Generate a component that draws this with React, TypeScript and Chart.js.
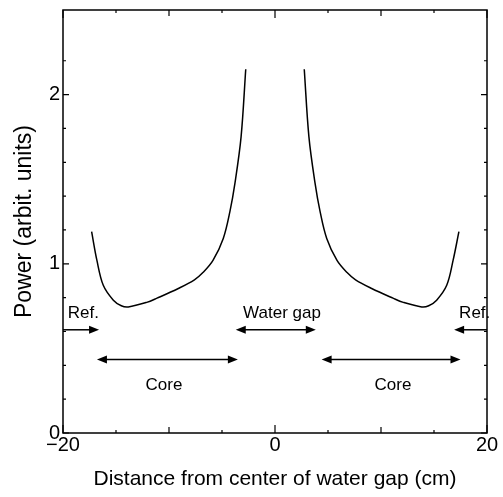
import React, { useEffect, useRef } from "react";
import { Chart, registerables } from "chart.js";

Chart.register(...registerables);

// ---- data ----
const leftX = [-17.3, -16.8, -16.2, -15.25, -14.5, -13.84, -12.1, -11.13, -9.12, -7.6, -6.8, -5.85, -4.88, -4.25, -3.77, -3.2, -2.76];
const leftY = [1.19, 1.02, 0.873, 0.785, 0.752, 0.745, 0.772, 0.797, 0.854, 0.905, 0.948, 1.02, 1.15, 1.31, 1.48, 1.75, 2.15];
const rightX = [2.76, 3.2, 3.77, 4.25, 4.88, 5.85, 6.8, 7.6, 9.12, 11.13, 12.1, 13.84, 14.5, 15.25, 16.2, 16.8, 17.35];
const rightY = [2.15, 1.75, 1.48, 1.31, 1.15, 1.02, 0.948, 0.905, 0.854, 0.797, 0.772, 0.745, 0.752, 0.785, 0.873, 1.02, 1.19];

const xLabeledTicks = [-20, 0, 20];
const yLabeledTicks = [0, 1, 2];

// annotation arrows: [from, to], height, heads
const arrowFrom = [-20, -3.7, 16.9, -16.8, 4.4];
const arrowTo = [-16.6, 3.85, 20, -3.5, 17.5];
const arrowY = [0.61, 0.61, 0.61, 0.435, 0.435];
const arrowHeads = ["end", "both", "start", "both", "both"];

const labelTexts = ["Ref.", "Water gap", "Ref.", "Core", "Core"];
const labelX = [-18.08, 0.66, 18.84, -10.47, 11.13];
const labelY = [0.678, 0.678, 0.678, 0.254, 0.254];

const FONT = "'Liberation Sans', Arial, Helvetica, sans-serif";

function drawHead(ctx: CanvasRenderingContext2D, x: number, y: number, dir: number) {
  const len = 10;
  const half = 4;
  ctx.beginPath();
  ctx.moveTo(x, y);
  ctx.lineTo(x - dir * len, y - half);
  ctx.lineTo(x - dir * len, y + half);
  ctx.closePath();
  ctx.fill();
}

const framePlugin = {
  id: "frameAndNotes",
  afterDatasetsDraw(chart: any) {
    const { ctx, chartArea: a } = chart;
    const xs = chart.scales.x;
    const ys = chart.scales.y;
    ctx.save();
    ctx.strokeStyle = "#000";
    ctx.fillStyle = "#000";
    ctx.lineWidth = 1.5;
    ctx.strokeRect(a.left, a.top, a.right - a.left, a.bottom - a.top);

    ctx.lineWidth = 1.2;
    xs.ticks.forEach((t: any) => {
      const v = t.value;
      const px = xs.getPixelForValue(v);
      let len = 3;
      if (Math.abs(v % 20) < 1e-6) len = 8;
      else if (Math.abs(v % 10) < 1e-6) len = 6;
      ctx.beginPath();
      ctx.moveTo(px, a.bottom);
      ctx.lineTo(px, a.bottom - len);
      ctx.moveTo(px, a.top);
      ctx.lineTo(px, a.top + len);
      ctx.stroke();
    });
    ys.ticks.forEach((t: any) => {
      const v = t.value;
      const r = Math.round(v / 0.2) * 0.2;
      if (Math.abs(v - r) > 1e-6) return;
      const py = ys.getPixelForValue(v);
      const len = Math.abs(v - Math.round(v)) < 1e-6 ? 6 : 3;
      ctx.beginPath();
      ctx.moveTo(a.left, py);
      ctx.lineTo(a.left + len, py);
      ctx.moveTo(a.right, py);
      ctx.lineTo(a.right - len, py);
      ctx.stroke();
    });

    // arrows
    ctx.lineWidth = 1.5;
    for (let i = 0; i < arrowFrom.length; i++) {
      const x1 = xs.getPixelForValue(arrowFrom[i]);
      const x2 = xs.getPixelForValue(arrowTo[i]);
      const py = ys.getPixelForValue(arrowY[i]);
      const h = arrowHeads[i];
      const s1 = h === "start" || h === "both" ? x1 + 8 : x1;
      const s2 = h === "end" || h === "both" ? x2 - 8 : x2;
      ctx.beginPath();
      ctx.moveTo(s1, py);
      ctx.lineTo(s2, py);
      ctx.stroke();
      if (h === "start" || h === "both") drawHead(ctx, x1, py, -1);
      if (h === "end" || h === "both") drawHead(ctx, x2, py, 1);
    }

    // labels
    ctx.font = `17px ${FONT}`;
    ctx.textAlign = "center";
    ctx.textBaseline = "alphabetic";
    for (let i = 0; i < labelTexts.length; i++) {
      ctx.fillText(labelTexts[i], xs.getPixelForValue(labelX[i]), ys.getPixelForValue(labelY[i]));
    }
    ctx.restore();
  },
};

export default function App() {
  const canvasRef = useRef<HTMLCanvasElement | null>(null);

  useEffect(() => {
    const canvas = canvasRef.current;
    if (!canvas) return;
    Chart.defaults.font.family = FONT;
    Chart.defaults.color = "#000";
    const chart = new Chart(canvas, {
      type: "line",
      data: {
        datasets: [
          {
            data: leftX.map((x, i) => ({ x, y: leftY[i] })),
            borderColor: "#000",
            borderWidth: 1.5,
            pointRadius: 0,
            fill: false,
            tension: 0.35,
          },
          {
            data: rightX.map((x, i) => ({ x, y: rightY[i] })),
            borderColor: "#000",
            borderWidth: 1.5,
            pointRadius: 0,
            fill: false,
            tension: 0.35,
          },
        ],
      },
      options: {
        animation: false,
        responsive: true,
        maintainAspectRatio: false,
        layout: { padding: { top: 10, right: 16, left: 0, bottom: 0 } },
        plugins: { legend: { display: false }, tooltip: { enabled: false } },
        scales: {
          x: {
            type: "linear",
            min: -20,
            max: 20,
            grid: { display: false, drawTicks: false },
            border: { display: false },
            ticks: {
              stepSize: 5,
              autoSkip: false,
              maxRotation: 0,
              padding: 0,
              font: { size: 20 },
              callback: (v: any) => {
                const n = Number(v);
                return xLabeledTicks.some((t) => Math.abs(t - n) < 1e-6)
                  ? String(n).replace("-", "\u2212")
                  : "";
              },
            },
            title: {
              display: true,
              text: "Distance from center of water gap (cm)",
              font: { size: 21 },
              padding: { top: 0, bottom: 5 },
            },
            afterFit: (s: any) => {
              s.height = 64;
              s.paddingLeft = 0;
              s.paddingRight = 0;
            },
          },
          y: {
            type: "linear",
            min: 0,
            max: 2.5,
            grid: { display: false, drawTicks: false },
            border: { display: false },
            ticks: {
              stepSize: 0.2,
              autoSkip: false,
              padding: 3,
              font: { size: 20 },
              callback: (v: any) => {
                const n = Number(v);
                return yLabeledTicks.some((t) => Math.abs(t - n) < 1e-6) ? String(Math.round(n)) : "";
              },
            },
            title: {
              display: true,
              text: "Power (arbit. units)",
              font: { size: 23 },
              padding: { top: 11, bottom: 0 },
            },
            afterFit: (s: any) => {
              s.width = 63;
              s.paddingTop = 0;
              s.paddingBottom = 0;
            },
          },
        },
      },
      plugins: [framePlugin],
    } as any);
    return () => chart.destroy();
  }, []);

  return (
    <div style={{ position: "absolute", left: 0, top: 0, width: 503, height: 497, background: "#fff" }}>
      <canvas ref={canvasRef} />
    </div>
  );
}
